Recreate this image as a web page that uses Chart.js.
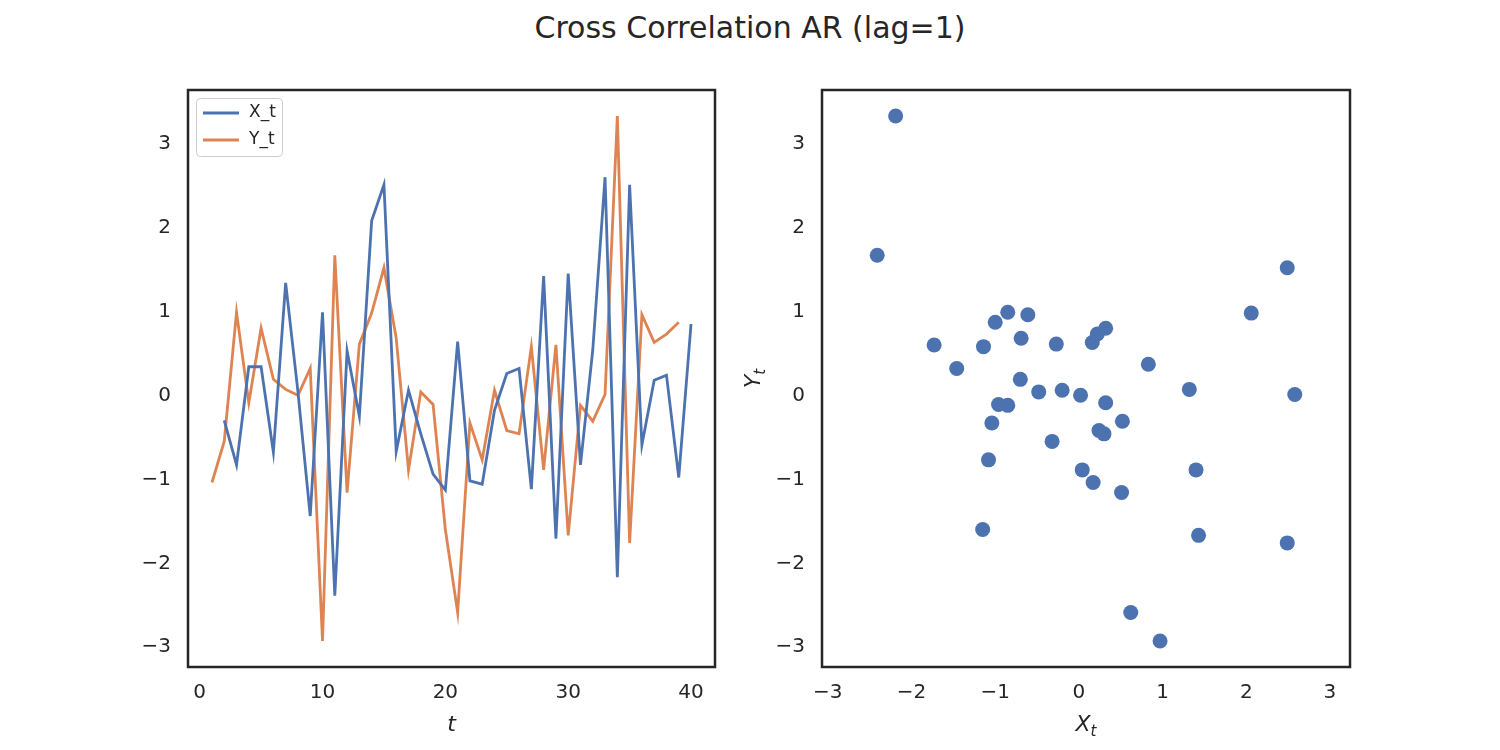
<!DOCTYPE html>
<html>
<head>
<meta charset="utf-8">
<script src="https://cdn.jsdelivr.net/npm/chart.js@4.4.0/dist/chart.umd.min.js"></script>
<style>
  body { margin: 0; background: #fff; width: 1500px; height: 750px; position: relative; overflow: hidden; font-family: "DejaVu Sans", sans-serif; }
  #title { position: absolute; top: 10px; left: 0; width: 1500px; text-align: center; font-size: 30px; line-height: 36px; color: #262626; }
  #left { position: absolute; left: 0; top: 60px; }
  #right { position: absolute; left: 720px; top: 60px; }
</style>
</head>
<body>
<div id="title">Cross Correlation AR (lag=1)</div>
<canvas id="left" width="720" height="690" style="width:720px;height:690px"></canvas>
<canvas id="right" width="780" height="690" style="width:780px;height:690px"></canvas>
<script>
// time index
const tIndex = [1,2,3,4,5,6,7,8,9,10,11,12,13,14,15,16,17,18,19,20,21,22,23,24,25,26,27,28,29,30,31,32,33,34,35,36,37,38,39,40];
// X_t, Y_t (first X and last Y only show up in the scatter)
const xSeries = [0.17,-0.32,-0.85,0.32,0.32,-0.70,1.32,0.02,-1.46,0.97,-2.41,0.51,-0.27,2.06,2.49,-0.69,0.04,-0.48,-0.96,-1.15,0.62,-1.04,-1.08,-0.20,0.24,0.30,-1.14,1.40,-1.73,1.43,-0.85,0.52,2.58,-2.19,2.49,-0.61,0.16,0.22,-1.00,0.83];
const ySeries = [-1.06,-0.57,0.97,-0.11,0.78,0.17,0.05,-0.02,0.30,-2.95,1.65,-1.18,0.59,0.96,1.50,0.66,-0.91,0.02,-0.13,-1.62,-2.61,-0.35,-0.79,0.04,-0.44,-0.48,0.56,-0.91,0.58,-1.69,-0.14,-0.33,-0.01,3.31,-1.78,0.94,0.61,0.71,0.85,0.35];
const seriesNames = ['X_t', 'Y_t'];
const tTicks = [0, 10, 20, 30, 40];
const valueTicks = [-3, -2, -1, 0, 1, 2, 3];

const ink = '#262626';
const blue = '#4C72B0';
const orange = '#DD8452';
const tickFont = { family: 'DejaVu Sans', size: 20 };

const setTicks = values => scale => { scale.ticks = values.map(v => ({ value: v })); };
const minus = v => String(v).replace('-', '\u2212');

// frame around the plot area (all four spines)
const framePlugin = {
  id: 'frame',
  afterDraw(chart) {
    const a = chart.chartArea, ctx = chart.ctx;
    ctx.save();
    ctx.strokeStyle = ink;
    ctx.lineWidth = 2.5;
    ctx.strokeRect(a.left, a.top, a.right - a.left, a.bottom - a.top);
    ctx.restore();
  }
};

// italic math style label with optional subscript
function mathLabel(ctx, main, sub, x, y, rotate) {
  ctx.save();
  ctx.translate(x, y);
  if (rotate) ctx.rotate(-Math.PI / 2);
  ctx.fillStyle = ink;
  ctx.textBaseline = 'alphabetic';
  ctx.font = 'italic 22px "DejaVu Sans"';
  const w1 = ctx.measureText(main).width;
  ctx.font = 'italic 15px "DejaVu Sans"';
  const w2 = sub ? ctx.measureText(sub).width : 0;
  const start = -(w1 + w2) / 2;
  ctx.font = 'italic 22px "DejaVu Sans"';
  ctx.fillText(main, start, 8);
  if (sub) {
    ctx.font = 'italic 15px "DejaVu Sans"';
    ctx.fillText(sub, start + w1, 13);
  }
  ctx.restore();
}

const leftLabels = {
  id: 'leftLabels',
  afterDraw(chart) {
    const a = chart.chartArea, ctx = chart.ctx;
    mathLabel(ctx, 't', '', (a.left + a.right) / 2, a.bottom + 56, false);
    // legend box
    const bx = a.left + 8, by = a.top + 8, bw = 86, bh = 58;
    ctx.save();
    ctx.fillStyle = 'rgba(255,255,255,0.8)';
    ctx.strokeStyle = '#cccccc';
    ctx.lineWidth = 1;
    ctx.beginPath();
    ctx.roundRect(bx + 0.5, by + 0.5, bw, bh, 4);
    ctx.fill();
    ctx.stroke();
    ctx.font = '17px "DejaVu Sans"';
    ctx.textBaseline = 'middle';
    chart.data.datasets.forEach((ds, i) => {
      const ly = by + 15 + i * 27;
      ctx.strokeStyle = ds.borderColor;
      ctx.lineWidth = 2.8;
      ctx.beginPath();
      ctx.moveTo(bx + 7, ly);
      ctx.lineTo(bx + 43, ly);
      ctx.stroke();
      ctx.fillStyle = ink;
      ctx.fillText(ds.label, bx + 53, ly);
    });
    ctx.restore();
  }
};

const rightLabels = {
  id: 'rightLabels',
  afterDraw(chart) {
    const a = chart.chartArea, ctx = chart.ctx;
    mathLabel(ctx, 'X', 't', (a.left + a.right) / 2, a.bottom + 56, false);
    mathLabel(ctx, 'Y', 't', a.left - 70, (a.top + a.bottom) / 2, true);
  }
};

function axis(min, max, ticks, fixed, isX) {
  const s = {
    type: 'linear',
    min: min,
    max: max,
    grid: { display: false, drawTicks: false },
    border: { display: false },
    afterBuildTicks: setTicks(ticks),
    ticks: { color: ink, font: tickFont, padding: isX ? 14 : 17, labelOffset: isX ? 0 : 2, callback: minus }
  };
  s.afterFit = isX ? (sc => { sc.height = fixed; }) : (sc => { sc.width = fixed; });
  return s;
}

// line panel
const xLine = tIndex.map((t, i) => ({ x: t, y: i === 0 ? null : xSeries[i] }));
const yLine = tIndex.map((t, i) => ({ x: t, y: i === tIndex.length - 1 ? null : ySeries[i] }));

new Chart(document.getElementById('left'), {
  type: 'line',
  data: {
    datasets: [
      { label: seriesNames[0], data: xLine, borderColor: blue, borderWidth: 2.8, pointRadius: 0, tension: 0, spanGaps: false },
      { label: seriesNames[1], data: yLine, borderColor: orange, borderWidth: 2.8, pointRadius: 0, tension: 0, spanGaps: false }
    ]
  },
  options: {
    responsive: false,
    animation: false,
    devicePixelRatio: 1,
    layout: { padding: { top: 30, right: 5, left: 0, bottom: 0 } },
    plugins: { legend: { display: false }, tooltip: { enabled: false } },
    scales: {
      x: axis(-0.95, 41.95, tTicks, 83, true),
      y: axis(-3.26, 3.62, valueTicks, 188, false)
    }
  },
  plugins: [framePlugin, leftLabels]
});

// scatter panel
const pairs = xSeries.map((v, i) => ({ x: v, y: ySeries[i] }));

new Chart(document.getElementById('right'), {
  type: 'scatter',
  data: {
    datasets: [
      { data: pairs, backgroundColor: blue, borderColor: blue, borderWidth: 0, pointRadius: 7.5 }
    ]
  },
  options: {
    responsive: false,
    animation: false,
    devicePixelRatio: 1,
    layout: { padding: { top: 30, right: 150, left: 0, bottom: 0 } },
    plugins: { legend: { display: false }, tooltip: { enabled: false } },
    scales: {
      x: axis(-3.07, 3.24, valueTicks, 83, true),
      y: axis(-3.26, 3.62, valueTicks, 102, false)
    }
  },
  plugins: [framePlugin, rightLabels]
});
</script>
</body>
</html>
